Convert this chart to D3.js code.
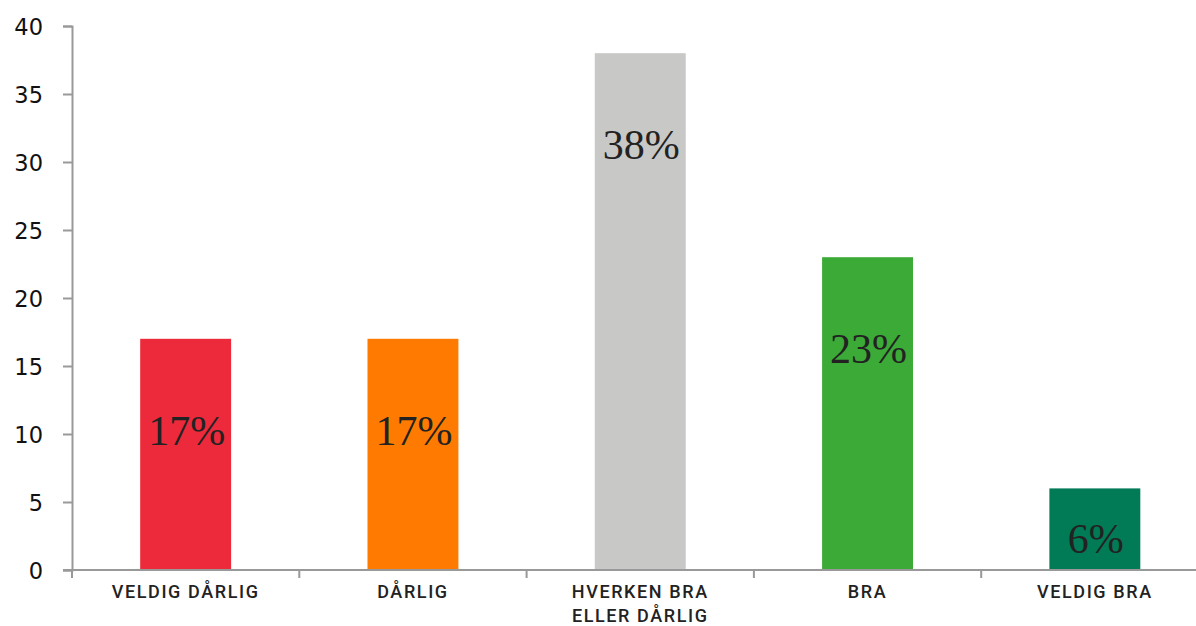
<!DOCTYPE html>
<html>
<head>
<meta charset="utf-8">
<script src="https://cdn.jsdelivr.net/npm/d3@7/dist/d3.min.js"></script>
<style>
  html, body { margin: 0; padding: 0; background: #fff; }
  svg { display: block; }
</style>
</head>
<body>
<svg id="chart" width="1196" height="626"></svg>
<script>
// Survey answers: share of respondents per rating
const categories = ["VELDIG DÅRLIG", "DÅRLIG", "HVERKEN BRA\nELLER DÅRLIG", "BRA", "VELDIG BRA"];
const values = [17, 17, 38, 23, 6];
const barColors = ["#EC2A3B", "#FF7A00", "#C8C8C6", "#3CAA36", "#007B55"];
const yTicks = [0, 5, 10, 15, 20, 25, 30, 35, 40];

const svg = d3.select("#chart");
const axisColor = "#999999";

const x0 = 72, yBottom = 570, yTop = 26;
const step = 227.3;

const x = d3.scaleBand()
  .domain(categories)
  .range([x0, x0 + step * categories.length])
  .padding(0);

const y = d3.scaleLinear().domain([0, 40]).range([yBottom, yTop]);

const barW = x.bandwidth() * 0.4;

// Bars
svg.append("g").selectAll("rect")
  .data(values)
  .join("rect")
  .attr("x", (d, i) => x(categories[i]) + (x.bandwidth() - barW) / 2)
  .attr("y", d => y(d))
  .attr("width", barW)
  .attr("height", d => y(0) - y(d))
  .attr("fill", (d, i) => barColors[i]);

// Value labels inside the bars
svg.append("g").selectAll("text")
  .data(values)
  .join("text")
  .attr("x", (d, i) => x(categories[i]) + x.bandwidth() / 2 + 1)
  .attr("y", d => Math.min(y(d) + 106, y(0) - 17))
  .attr("text-anchor", "middle")
  .attr("font-family", "'Liberation Serif', 'DejaVu Serif', serif")
  .attr("font-size", 42)
  .attr("fill", "#222")
  .text(d => d + "%");

// Y axis
const yAxis = d3.axisLeft(y).tickValues(yTicks).tickSize(9).tickPadding(0).tickSizeOuter(9);
const gy = svg.append("g").attr("transform", `translate(${x0},0)`).call(yAxis);
gy.select(".domain").attr("stroke", axisColor).attr("stroke-width", 2);
gy.selectAll(".tick line").attr("stroke", axisColor).attr("stroke-width", 2);
gy.selectAll(".tick text")
  .attr("x", -29)
  .attr("dy", "0.36em")
  .attr("font-family", "'DejaVu Sans', sans-serif")
  .attr("font-size", 22.5)
  .attr("fill", "#111");

// X axis baseline and band-boundary ticks
const gx = svg.append("g");
gx.append("line")
  .attr("x1", x0 - 9).attr("x2", 1196)
  .attr("y1", y(0)).attr("y2", y(0))
  .attr("stroke", axisColor).attr("stroke-width", 2);
gx.selectAll("line.tick")
  .data(categories)
  .join("line")
  .attr("class", "tick")
  .attr("x1", d => x(d)).attr("x2", d => x(d))
  .attr("y1", y(0)).attr("y2", y(0) + 8)
  .attr("stroke", axisColor).attr("stroke-width", 2);

// Category labels
const labels = gx.selectAll("text.cat")
  .data(categories)
  .join("text")
  .attr("class", "cat")
  .attr("text-anchor", "middle")
  .attr("font-family", "Roboto, 'DejaVu Sans', sans-serif")
  .attr("font-weight", 500)
  .attr("font-size", 18)
  .attr("letter-spacing", "1.6px")
  .attr("fill", "#222");
labels.each(function(d) {
  const t = d3.select(this);
  const cx = x(d) + x.bandwidth() / 2;
  d.split("\n").forEach((line, j) => {
    t.append("tspan")
      .attr("x", cx)
      .attr("y", 598 + j * 24)
      .text(line);
  });
});
</script>
</body>
</html>
